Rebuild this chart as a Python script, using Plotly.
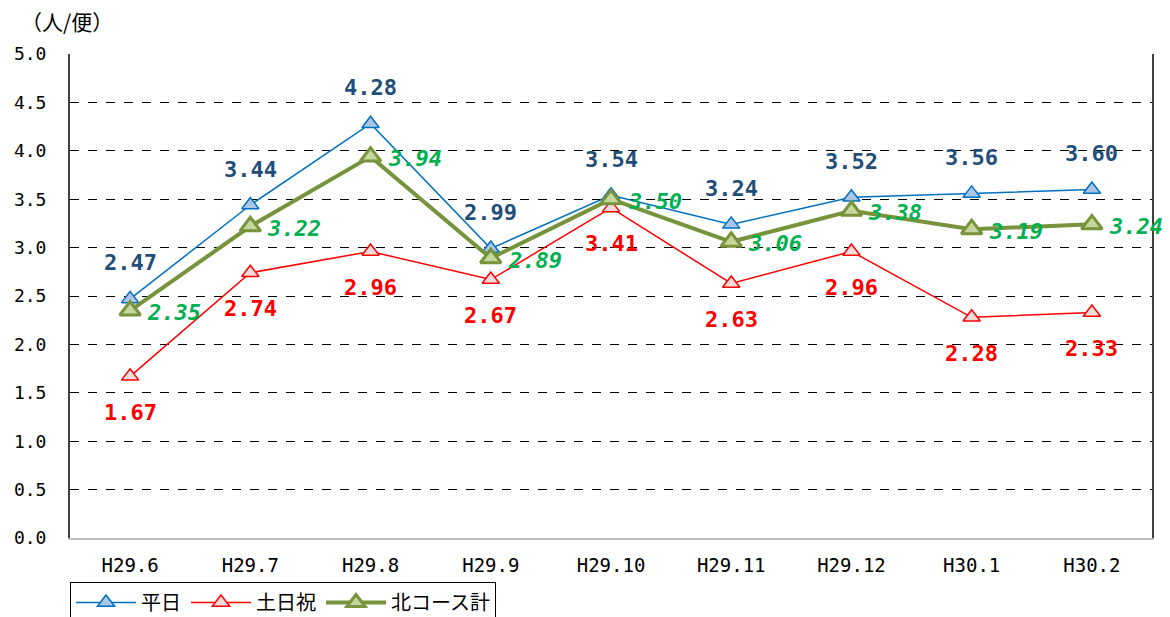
import plotly.graph_objs as go

months = ["H29.6", "H29.7", "H29.8", "H29.9", "H29.10", "H29.11", "H29.12", "H30.1", "H30.2"]
weekday = [2.47, 3.44, 4.28, 2.99, 3.54, 3.24, 3.52, 3.56, 3.60]
holiday = [1.67, 2.74, 2.96, 2.67, 3.41, 2.63, 2.96, 2.28, 2.33]
north_total = [2.35, 3.22, 3.94, 2.89, 3.50, 3.06, 3.38, 3.19, 3.24]

num_font = "DejaVu Sans Mono"
jp_font = "Noto Sans CJK JP"

fig = go.Figure()
fig.add_trace(go.Scatter(
    x=months, y=weekday, name="平日", mode="lines+markers",
    line=dict(color="#0070C0", width=1.5),
    marker=dict(symbol="triangle-up", size=15, color="#A9C4E4",
                line=dict(color="#0070C0", width=1.5)),
))
fig.add_trace(go.Scatter(
    x=months, y=holiday, name="土日祝", mode="lines+markers",
    line=dict(color="#FF0000", width=1.5),
    marker=dict(symbol="triangle-up", size=15, color="#F2DCDB",
                line=dict(color="#FF0000", width=1.5)),
))
fig.add_trace(go.Scatter(
    x=months, y=north_total, name="北コース計", mode="lines+markers",
    line=dict(color="#77933C", width=4),
    marker=dict(symbol="triangle-up", size=18, color="#C3D69B",
                line=dict(color="#77933C", width=3)),
))

# data labels
annotations = []
for m, v in zip(months, weekday):
    annotations.append(dict(x=m, y=v, text=f"{v:.2f}", showarrow=False, yshift=36,
                            font=dict(family=num_font, size=22, color="#1F4E79", weight="bold")))
for m, v in zip(months, holiday):
    annotations.append(dict(x=m, y=v, text=f"{v:.2f}", showarrow=False, yshift=-36,
                            font=dict(family=num_font, size=22, color="#FF0000", weight="bold")))
for m, v in zip(months, north_total):
    annotations.append(dict(x=m, y=v, text=f"{v:.2f}", showarrow=False, xanchor="left",
                            xshift=15, yshift=-2,
                            font=dict(family=num_font, size=22, color="#00B050",
                                      weight="bold", style="italic")))
annotations.append(dict(xref="paper", yref="paper", x=-0.047, y=1.068, xanchor="left",
                        yanchor="middle", text="（人/便）", showarrow=False,
                        font=dict(family=jp_font, size=21, color="black")))

# page body has an 8px margin, so the figure is sized to fill the rest of the window
fig.update_layout(
    width=1162, height=609,
    margin=dict(l=62, r=18, t=46, b=79, autoexpand=False),
    plot_bgcolor="white", paper_bgcolor="white",
    showlegend=True,
    legend=dict(orientation="h", x=0, y=-0.091, xanchor="left", yanchor="top",
                bordercolor="black", borderwidth=1,
                font=dict(family=jp_font, size=20, color="black"),
                itemwidth=60),
    annotations=annotations,
    xaxis=dict(
        type="category", range=[-0.5, 8.5], automargin=False,
        showline=True, linecolor="#BFBFBF", linewidth=1.5,
        showgrid=False, ticks="", ticklabelstandoff=9,
        tickfont=dict(family=num_font, size=19, color="black"),
    ),
    yaxis=dict(
        range=[0, 5], dtick=0.5, tickformat=".1f", automargin=False,
        showline=True, mirror=True, linecolor="#404040", linewidth=2,
        showgrid=True, gridcolor="black", gridwidth=1, griddash="dash",
        zeroline=False, ticks="", ticklabelstandoff=18,
        tickfont=dict(family=num_font, size=18, color="black"),
    ),
)

fig.write_html("out.html")
